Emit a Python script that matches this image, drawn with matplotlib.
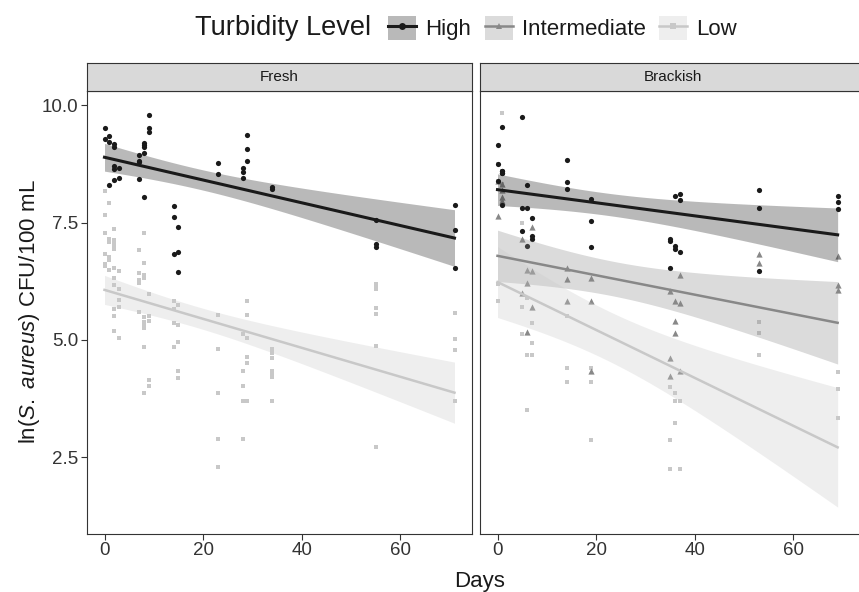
#importing libraries

import numpy as np
import matplotlib.pyplot as plt
from matplotlib.lines import Line2D
from matplotlib.patches import Patch

plt.rcParams['font.family'] = ['Liberation Sans', 'DejaVu Sans']
plt.rcParams['mathtext.fontset'] = 'custom'
plt.rcParams['mathtext.rm'] = 'Liberation Sans'
plt.rcParams['mathtext.it'] = 'Liberation Sans:italic'

#data: ln(S. aureus) CFU/100 mL per sampling day

fresh_high_day = [0, 0, 1, 1, 1, 2, 2, 2, 2, 2, 3, 3, 7, 7, 7, 7, 8, 8, 8, 8, 8, 9, 9, 9,
                  14, 14, 14, 15, 15, 15, 23, 23, 28, 28, 28, 29, 29, 29, 34, 34,
                  55, 55, 55, 71, 71, 71]
fresh_high_val = [9.52, 9.28, 9.35, 9.21, 8.30, 9.17, 9.11, 8.70, 8.65, 8.40, 8.67, 8.45,
                  8.94, 8.81, 8.78, 8.42, 9.20, 9.15, 9.11, 8.99, 8.05, 9.79, 9.52, 9.42,
                  7.85, 7.62, 6.82, 7.40, 6.87, 6.45, 8.76, 8.53, 8.66, 8.58, 8.45,
                  9.37, 9.06, 8.81, 8.25, 8.21, 7.55, 7.04, 6.98, 7.87, 7.34, 6.53]

fresh_low_day = [0, 0, 0, 0, 0, 0, 1, 1, 1, 1, 1, 1,
                 2, 2, 2, 2, 2, 2, 2, 2, 2, 2, 2, 3, 3, 3, 3, 3,
                 7, 7, 7, 7, 7, 8, 8, 8, 8, 8, 8, 8, 8, 8, 8, 9, 9, 9, 9, 9,
                 14, 14, 14, 14, 15, 15, 15, 15, 15, 23, 23, 23, 23, 23,
                 28, 28, 28, 28, 28, 29, 29, 29, 29, 29, 29,
                 34, 34, 34, 34, 34, 34, 34, 55, 55, 55, 55, 55, 55, 55, 71, 71, 71, 71]
fresh_low_val = [8.17, 7.67, 7.27, 6.84, 6.62, 6.57, 7.92, 7.14, 7.09, 6.77, 6.70, 6.49,
                 7.37, 7.13, 7.07, 7.00, 6.93, 6.54, 6.33, 6.17, 5.65, 5.50, 5.20,
                 6.47, 6.09, 5.85, 5.70, 5.05,
                 6.91, 6.42, 6.28, 6.21, 5.60,
                 7.27, 6.63, 6.38, 6.31, 5.48, 5.39, 5.32, 5.25, 4.86, 3.88,
                 5.97, 5.51, 5.41, 4.15, 4.01,
                 5.84, 5.67, 5.37, 4.84, 5.74, 5.32, 4.96, 4.33, 4.19,
                 5.53, 4.81, 3.88, 2.89, 2.29,
                 5.13, 4.34, 4.02, 3.71, 2.89, 5.82, 5.53, 5.05, 4.64, 4.50, 3.71,
                 4.81, 4.72, 4.62, 4.33, 4.27, 4.22, 3.71,
                 6.19, 6.13, 6.08, 5.69, 5.55, 4.87, 2.73,
                 5.58, 5.03, 4.79, 3.71]

brack_high_day = [0, 0, 0, 1, 1, 1, 1, 1, 1, 5, 5, 5, 6, 6, 6, 7, 7, 7, 14, 14, 14,
                  19, 19, 19, 35, 35, 35, 36, 36, 36, 37, 37, 37, 53, 53, 53, 69, 69, 69]
brack_high_val = [9.16, 8.74, 8.39, 9.53, 8.60, 8.60, 8.56, 8.55, 7.87,
                  9.75, 7.82, 7.33, 8.30, 7.82, 7.01, 7.60, 7.21, 7.16,
                  8.84, 8.37, 8.21, 8.00, 7.54, 6.98, 7.16, 7.11, 6.54,
                  8.06, 7.00, 6.93, 8.10, 7.99, 6.88, 8.19, 7.82, 6.47, 8.07, 7.93, 7.78]

brack_mid_day = [0, 0, 1, 1, 1, 1, 5, 5, 6, 6, 6, 7, 7, 7, 14, 14, 14, 19, 19, 19,
                 35, 35, 35, 36, 36, 36, 37, 37, 37, 53, 53, 69, 69, 69]
brack_mid_val = [8.39, 7.64, 8.31, 8.19, 8.05, 7.96, 7.16, 6.01, 6.49, 6.22, 5.18,
                 7.41, 6.47, 5.71, 6.54, 6.29, 5.84, 6.31, 5.84, 4.33,
                 6.05, 4.62, 4.23, 5.82, 5.41, 5.14, 6.38, 5.78, 4.33,
                 6.84, 6.64, 6.79, 6.17, 6.06]

#some low squares sit under the crowded markers at day 0-1
brack_low_day = [0, 0, 0, 0, 1, 1, 1, 1, 5, 5, 5, 6, 6, 6, 7, 7, 7, 14, 14, 14, 19, 19, 19,
                 35, 35, 35, 36, 36, 36, 37, 37, 53, 53, 53, 69, 69, 69]
brack_low_val = [8.74, 8.39, 6.19, 5.83, 9.84, 8.60, 8.31, 7.96,
                 7.50, 5.70, 5.13, 5.89, 4.68, 3.50, 5.36, 4.94, 4.68,
                 5.51, 4.40, 4.11, 4.40, 4.11, 2.87, 3.99, 2.87, 2.26,
                 3.87, 3.70, 3.24, 3.70, 2.26, 5.39, 5.14, 4.68, 4.31, 3.96, 3.33]

levels = ['High', 'Intermediate', 'Low']
colors = {'High': '#1a1a1a', 'Intermediate': '#888888', 'Low': '#c8c8c8'}
markers = {'High': 'o', 'Intermediate': '^', 'Low': 's'}
sizes = {'High': 14, 'Intermediate': 20, 'Low': 12}
widths = {'High': 2.2, 'Intermediate': 1.8, 'Low': 1.8}
point_z = {'High': 2.3, 'Intermediate': 2.2, 'Low': 2.1}
band_alpha = 0.3

panels = [
    ('Fresh', {'High': (fresh_high_day, fresh_high_val),
               'Low': (fresh_low_day, fresh_low_val)}),
    ('Brackish', {'High': (brack_high_day, brack_high_val),
                  'Intermediate': (brack_mid_day, brack_mid_val),
                  'Low': (brack_low_day, brack_low_val)}),
]

#t quantile (0.975) without scipy
def t975(df):
    z = 1.959964
    return z + (z**3 + z) / (4 * df) + (5 * z**5 + 16 * z**3 + 3 * z) / (96 * df**2)

#straight line fit with 95% confidence band, like geom_smooth(method = lm)
def lm_band(x, y):
    x = np.asarray(x, float)
    y = np.asarray(y, float)
    n = len(x)
    b, a = np.polyfit(x, y, 1)
    s = np.sqrt(np.sum((y - (a + b * x))**2) / (n - 2))
    xs = np.linspace(x.min(), x.max(), 80)
    fit = a + b * xs
    se = s * np.sqrt(1 / n + (xs - x.mean())**2 / np.sum((x - x.mean())**2))
    t = t975(n - 2)
    return xs, fit, fit - t * se, fit + t * se

W, H = 859, 592
def box(l, t, r, b):
    return [l / W, 1 - b / H, (r - l) / W, (b - t) / H]

fig = plt.figure(figsize=(W / 100, H / 100), dpi=100)
edge = '#333333'
txt = '#1a1a1a'

#the right panel runs a little past the image edge, as in the original
panel_boxes = [box(87, 91, 472, 534), box(480, 91, 865, 534)]
strip_boxes = [box(87, 63, 472, 91), box(480, 63, 865, 91)]

for i, (name, groups) in enumerate(panels):
    ax = fig.add_axes(panel_boxes[i])
    for lev in levels:
        if lev not in groups:
            continue
        d, v = groups[lev]
        ax.scatter(d, v, s=sizes[lev], marker=markers[lev], color=colors[lev],
                   linewidths=0, zorder=point_z[lev])
        xs, fit, lo, hi = lm_band(d, v)
        ax.fill_between(xs, lo, hi, color=colors[lev], alpha=band_alpha, lw=0, zorder=3)
        ax.plot(xs, fit, color=colors[lev], lw=widths[lev], zorder=4)
    ax.set_xlim(-3.55, 74.55)
    ax.set_ylim(0.87, 10.30)
    ax.set_xticks([0, 20, 40, 60])
    ax.set_yticks([2.5, 5.0, 7.5, 10.0])
    ax.set_yticklabels(['2.5', '5.0', '7.5', '10.0'])
    ax.tick_params(direction='out', length=4, width=0.8, color=edge,
                   labelsize=13.5, labelcolor='#333333', pad=2)
    if i == 1:
        ax.tick_params(axis='y', left=False, labelleft=False)
    for sp in ax.spines.values():
        sp.set_color(edge)
        sp.set_linewidth(0.8)

    strip = fig.add_axes(strip_boxes[i])
    strip.set_facecolor('#d9d9d9')
    strip.set_xticks([])
    strip.set_yticks([])
    for sp in strip.spines.values():
        sp.set_color(edge)
        sp.set_linewidth(0.8)
    strip.text(0.5, 0.5, name, ha='center', va='center', fontsize=11, color=txt,
               transform=strip.transAxes)

#axis titles
fig.text(30 / W, 1 - 312 / H, r'ln($\it{S.\ aureus}$) CFU/100 mL', rotation=90,
         ha='center', va='center', fontsize=16, color=txt)
fig.text(480 / W, 1 - 581 / H, 'Days', ha='center', va='center', fontsize=16, color=txt)

#legend on top
fig.text(195 / W, 1 - 28 / H, 'Turbidity Level', ha='left', va='center',
         fontsize=19.5, color=txt)
handles = []
for lev in levels:
    bg = Patch(facecolor=colors[lev], alpha=band_alpha, edgecolor='none')
    ln = Line2D([], [], color=colors[lev], lw=widths[lev], marker=markers[lev],
                markersize=5, markeredgewidth=0)
    handles.append((bg, ln))
fig.legend(handles, levels, ncol=3, loc='center left', frameon=False,
           bbox_to_anchor=(388 / W, 1 - 28 / H), fontsize=16, labelcolor=txt,
           handlelength=1.26, handleheight=1.3, handletextpad=0.42,
           columnspacing=0.6, borderpad=0, borderaxespad=0, numpoints=1)

plt.savefig('out.png', dpi=100)
